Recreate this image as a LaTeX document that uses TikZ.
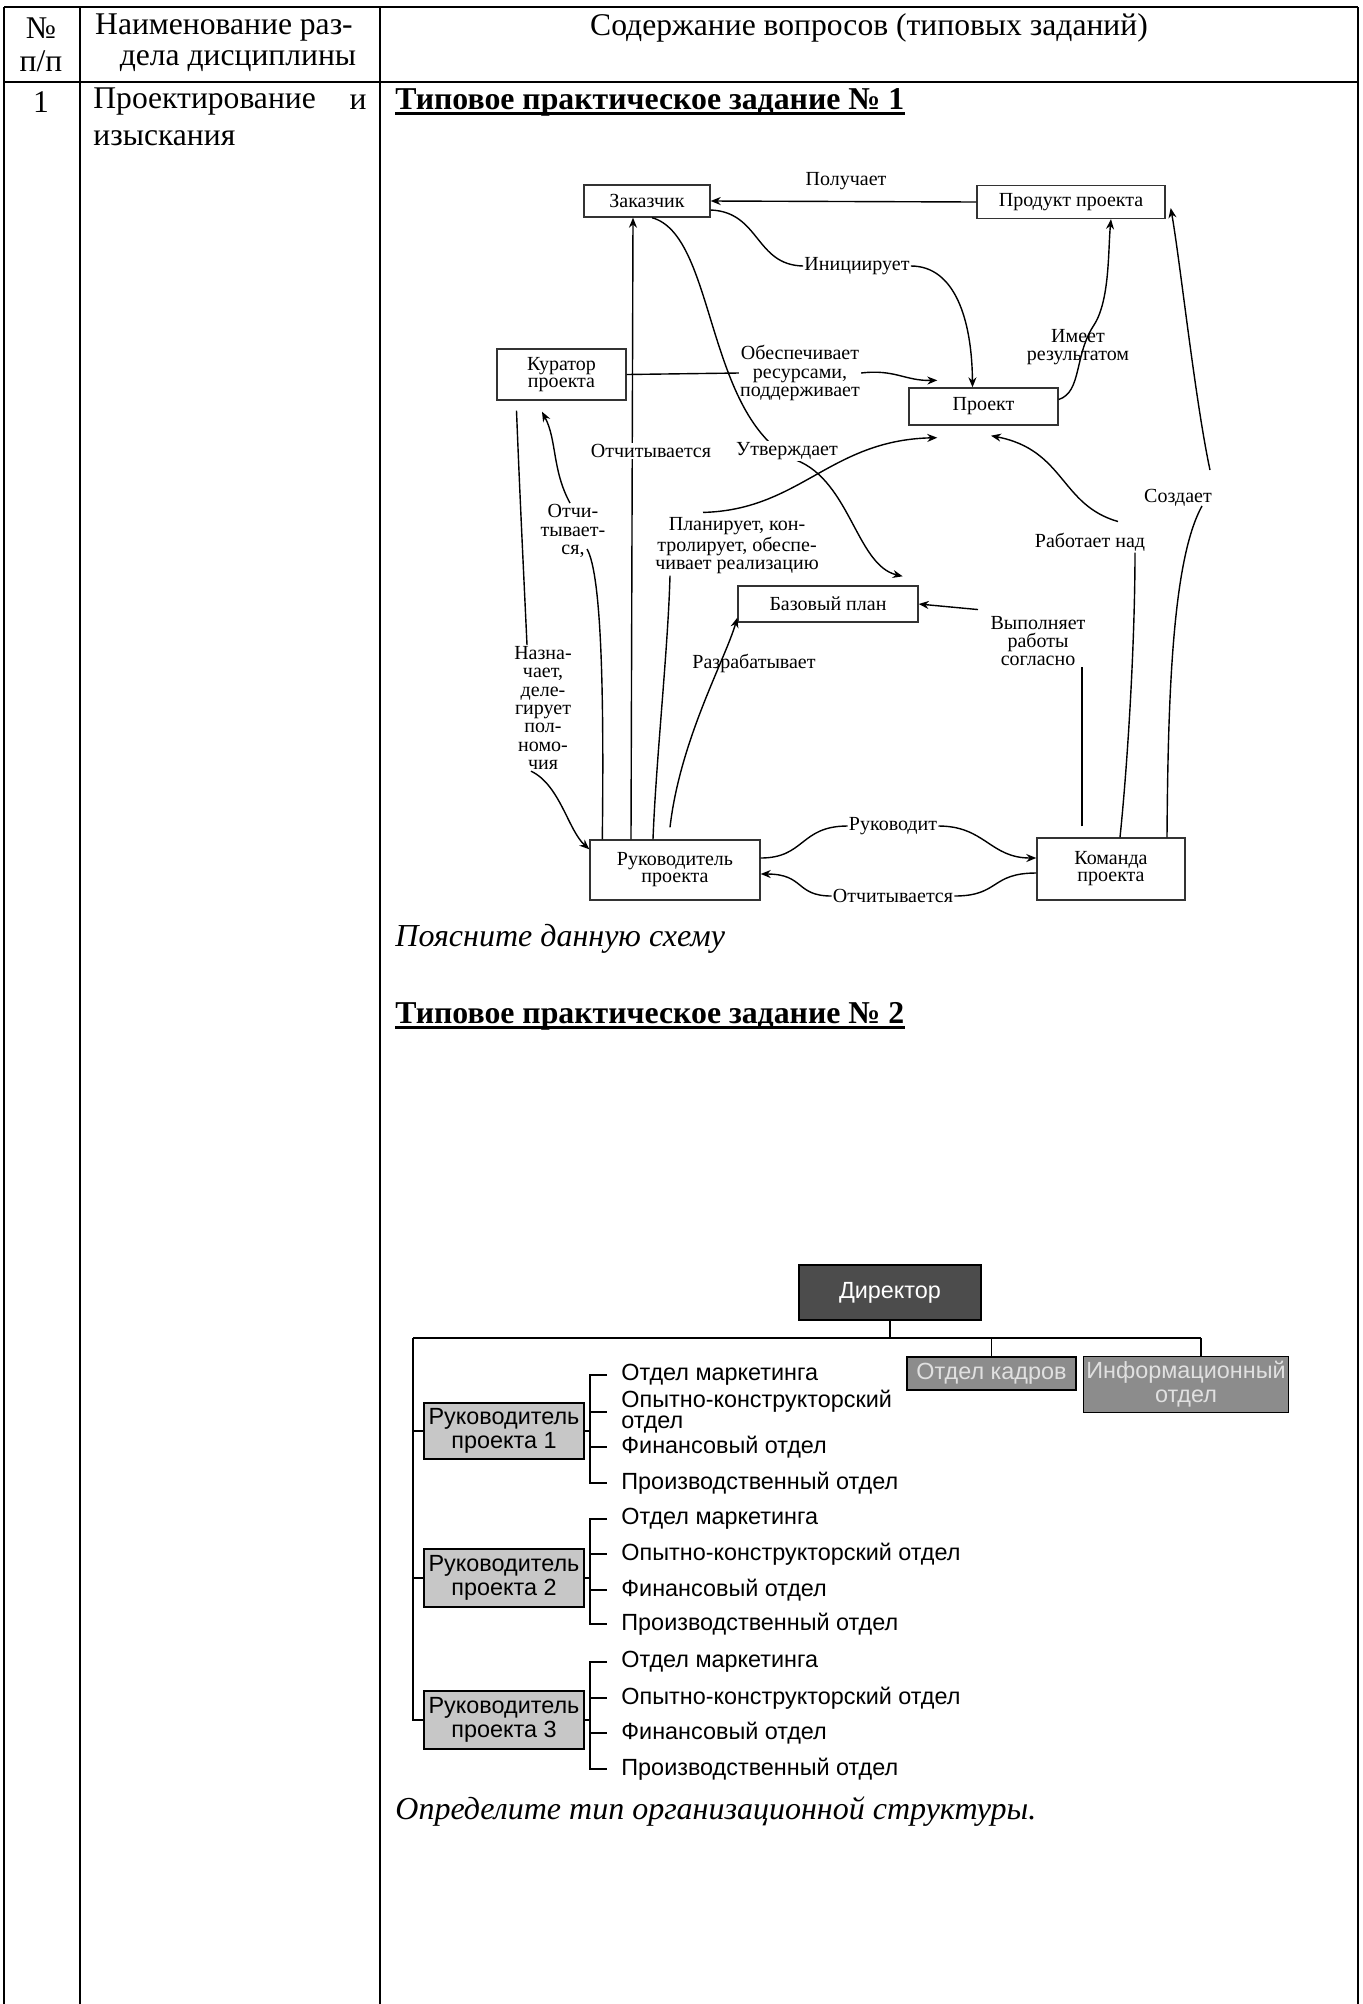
\documentclass[tikz,border=0pt]{standalone}
\usepackage{fontspec}
\setmainfont{Liberation Serif}
\setsansfont{Liberation Sans}
\usetikzlibrary{arrows.meta}
\begin{document}
\begin{tikzpicture}[x=0.5pt, y=-0.5pt,
  tableLine/.style={line width=0.6pt},
  cellText/.style={inner sep=0pt, font=\fontsize{15.8}{16.5}\selectfont},
  taskTitle/.style={inner sep=0pt, anchor=west, font=\fontsize{15.9}{16.5}\selectfont\bfseries},
  taskQuestion/.style={inner sep=0pt, anchor=west, font=\fontsize{16}{16.5}\selectfont\itshape},
  schemeBox/.style={rectangle, draw=black!80, line width=0.7pt, inner sep=0pt, align=center, font=\fontsize{10}{8.5}\selectfont},
  schemeLabel/.style={inner sep=0.5pt, align=center, font=\fontsize{10}{9.2}\selectfont},
  schemeLine/.style={line width=0.7pt},
  schemeArrow/.style={line width=0.7pt, -{Stealth[length=5pt, width=4pt]}},
  orgBox/.style={rectangle, draw=black, line width=0.8pt, inner sep=0pt, align=center, font=\sffamily\fontsize{11.7}{12}\selectfont},
  orgLine/.style={line width=0.75pt},
  deptLabel/.style={anchor=west, inner sep=0pt, align=left, font=\sffamily\fontsize{11.7}{10.5}\selectfont}]
\useasboundingbox (0,0) rectangle (1362,2004);

% table frame
\draw[tableLine] (4,7) -- (1358,7);
\draw[tableLine] (4,82) -- (1358,82);
\draw[tableLine] (4,7) -- (4,2004);
\draw[tableLine] (80,7) -- (80,2004);
\draw[tableLine] (380,7) -- (380,2004);
\draw[tableLine] (1358,7) -- (1358,2004);

% header and first row
\node[cellText] (numHead) at (41,28) {№};
\node[cellText] (numHeadB) at (41,61) {п/п};
\node[cellText] (nameHead) at (224,28) {Наименование раз-};
\node[cellText] (nameHeadB) at (238,61) {дела дисциплины};
\node[cellText] (contentHead) at (869,28) {Содержание вопросов (типовых заданий)};
\node[cellText] (rowNum) at (41,102) {1};
\node[cellText, anchor=west] (rowName) at (93,102) {Проектирование};
\node[cellText, anchor=east] (rowNameAnd) at (367,102) {и};
\node[cellText, anchor=west] (rowNameB) at (93,138) {изыскания};
\node[taskTitle] (task1Title) at (395,102) {Типовое практическое задание № 1};
\draw[line width=1.1pt] ([yshift=-2.2pt]task1Title.base west) -- ([yshift=-2.2pt]task1Title.base east);

% scheme 1: boxes
\node[schemeBox, minimum width=63pt, minimum height=16pt] (zakBox) at (647,201) {Заказчик};
\node[schemeBox, minimum width=94pt, minimum height=16.5pt] (prodBox) at (1071,202) {Продукт проекта};
\node[schemeBox, minimum width=64.5pt, minimum height=25.5pt] (kurBox) at (561.5,374.5) {Куратор\\проекта};
\node[schemeBox, minimum width=74.5pt, minimum height=18.5pt] (projBox) at (983.5,406.5) {Проект};
\node[schemeBox, minimum width=90pt, minimum height=18pt] (baseBox) at (828,604) {Базовый план};
\node[schemeBox, minimum width=85pt, minimum height=30pt] (rukBox) at (675,870) {Руководитель\\проекта};
\node[schemeBox, minimum width=74pt, minimum height=31pt] (teamBox) at (1111,869) {Команда\\проекта};

% scheme 1: labels
\node[schemeLabel] (getLabel) at (846,181) {Получает};
\node[schemeLabel] (initLabel) at (857,266) {Инициирует};
\node[schemeLabel] (resLabel) at (800,373) {Обеспечивает\\ресурсами,\\поддерживает};
\node[schemeLabel] (resultLabel) at (1078,347) {Имеет\\результатом};
\node[schemeLabel] (planLabel) at (737,546) {Планирует, кон-\\тролирует, обеспе-\\чивает реализацию};
\node[schemeLabel] (workLabel) at (1090,542) {Работает над};
\node[schemeLabel] (createLabel) at (1178,498) {Создает};
\node[schemeLabel] (doLabel) at (1038,641) {Выполняет\\работы\\согласно};
\node[schemeLabel] (devLabel) at (754,663) {Разрабатывает};
\node[schemeLabel] (assignLabel) at (543,708) {Назна-\\чает,\\деле-\\гирует\\пол-\\номо-\\чия};
\node[schemeLabel] (reportKurLabel) at (573,531) {Отчи-\\тывает-\\ся,};
\node[schemeLabel] (leadLabel) at (893,826) {Руководит};
\node[schemeLabel] (reportRukLabel) at (893,896) {Отчитывается};

% scheme 1: connectors
\draw[schemeArrow] (prodBox.west) -- (zakBox.east);
\draw[schemeLine] ([yshift=-4.5pt]zakBox.east) .. controls (760,212) and (755,265) .. (initLabel.west);
\draw[schemeArrow] (initLabel.east) .. controls (955,266) and (972,320) .. ([xshift=-5.5pt]projBox.north);
\draw[schemeLine] (kurBox.east) -- (resLabel.west);
\draw[schemeArrow] (resLabel.east) .. controls (895,369) and (905,381) .. ([xshift=14.5pt,yshift=3.5pt]projBox.north west);
\draw[schemeArrow] ([yshift=3.5pt]projBox.east) .. controls (1082,392) and (1074,355) .. (1094,325) .. controls (1110,300) and (1108,250) .. ([xshift=20pt]prodBox.south);
\draw[schemeArrow] ([xshift=-22pt]rukBox.north) -- ([xshift=-7pt]zakBox.south);
\draw[schemeArrow] ([xshift=2.5pt]zakBox.south) .. controls (715,235) and (705,410) .. (790,458) .. controls (850,475) and (855,565) .. ([xshift=-8pt,yshift=4.5pt]baseBox.north east);
\draw[schemeLine] ([xshift=-11pt]rukBox.north) .. controls (656,760) and (668,650) .. ([xshift=-33.5pt]planLabel.south);
\draw[schemeArrow] ([xshift=-17pt,yshift=2pt]planLabel.north) .. controls (800,510) and (830,440) .. ([xshift=14.5pt,yshift=-6pt]projBox.south west);
\draw[schemeArrow] ([xshift=-2.5pt,yshift=6pt]rukBox.north) .. controls (680,740) and (725,660) .. ([yshift=2.5pt]baseBox.south west);
\draw[schemeLine] ([xshift=6.5pt]rukBox.north west) .. controls (604,700) and (602,575) .. ([xshift=7pt,yshift=-9pt]reportKurLabel.center);
\draw[schemeArrow] ([xshift=-1.5pt]reportKurLabel.north) .. controls (552,470) and (557,440) .. ([xshift=-9.75pt,yshift=-5.5pt]kurBox.south);
\draw[schemeLine] ([xshift=-22.5pt,yshift=-5pt]kurBox.south) .. controls (520,500) and (524,580) .. ([xshift=-8pt]assignLabel.north);
\draw[schemeArrow] ([xshift=-6pt]assignLabel.south) .. controls (560,785) and (568,830) .. ([yshift=-5pt]rukBox.north west);
\draw[schemeLine] ([yshift=6pt]rukBox.east) .. controls (805,858) and (800,826) .. (leadLabel.west);
\draw[schemeArrow] (leadLabel.east) .. controls (985,826) and (990,858) .. ([yshift=5.5pt]teamBox.west);
\draw[schemeLine] ([yshift=-2pt]teamBox.west) .. controls (990,873) and (1000,896) .. (reportRukLabel.east);
\draw[schemeArrow] (reportRukLabel.west) .. controls (795,896) and (805,874) .. ([yshift=-2pt]rukBox.east);
\draw[schemeLine] ([xshift=4.5pt]teamBox.north) .. controls (1128,760) and (1135,640) .. ([xshift=22.5pt]workLabel.south);
\draw[schemeArrow] ([xshift=14pt,yshift=5pt]workLabel.north) .. controls (1060,505) and (1065,450) .. ([xshift=3.75pt,yshift=-5pt]projBox.south);
\draw[schemeLine] ([xshift=-14.5pt,yshift=5.5pt]teamBox.north) -- ([xshift=22pt]doLabel.south);
\draw[schemeArrow] ([xshift=-30pt,yshift=2.5pt]doLabel.north) -- (baseBox.east);
\draw[schemeLine] ([xshift=28pt]teamBox.north) .. controls (1168,700) and (1172,560) .. ([xshift=12pt,yshift=-4pt]createLabel.center);
\draw[schemeArrow] ([xshift=16pt,yshift=14pt]createLabel.center) .. controls (1195,400) and (1180,260) .. ([xshift=2.5pt,yshift=-3pt]prodBox.east);
\node[schemeLabel, fill=white] (reportZakLabel) at (651,451) {Отчитывается};
\node[schemeLabel, fill=white] (approveLabel) at (787,451) {Утверждает};

\node[taskQuestion] (task1Question) at (395,939) {Поясните данную схему};
\node[taskTitle] (task2Title) at (395,1016) {Типовое практическое задание № 2};
\draw[line width=1.1pt] ([yshift=-2.2pt]task2Title.base west) -- ([yshift=-2.2pt]task2Title.base east);

% scheme 2: boxes
\node[orgBox, fill=black!70, text=white, minimum width=91pt, minimum height=27.5pt] (dirBox) at (890,1292.5) {Директор};
\node[orgBox, fill=black!45, text=black!12, minimum width=84.5pt, minimum height=16.5pt] (hrBox) at (991.5,1373.5) {Отдел кадров};
\node[orgBox, fill=black!45, text=black!12, minimum width=102.5pt, minimum height=28pt] (infoBox) at (1186,1384.5) {Информационный\\отдел};
\node[orgBox, fill=black!22, minimum width=80pt, minimum height=28pt] (lead1Box) at (504,1431) {Руководитель\\проекта 1};
\node[orgBox, fill=black!22, minimum width=80pt, minimum height=29pt] (lead2Box) at (504,1578) {Руководитель\\проекта 2};
\node[orgBox, fill=black!22, minimum width=80pt, minimum height=29pt] (lead3Box) at (504,1720) {Руководитель\\проекта 3};

% scheme 2: departments
\node[deptLabel] (mark1) at (621,1375) {Отдел маркетинга};
\node[deptLabel] (design1) at (621,1412) {Опытно-конструкторский\\отдел};
\node[deptLabel] (fin1) at (621,1447) {Финансовый отдел};
\node[deptLabel] (prod1) at (621,1483) {Производственный отдел};
\node[deptLabel] (mark2) at (621,1519) {Отдел маркетинга};
\node[deptLabel] (design2) at (621,1554) {Опытно-конструкторский отдел};
\node[deptLabel] (fin2) at (621,1590) {Финансовый отдел};
\node[deptLabel] (prod2) at (621,1624) {Производственный отдел};
\node[deptLabel] (mark3) at (621,1662) {Отдел маркетинга};
\node[deptLabel] (design3) at (621,1698) {Опытно-конструкторский отдел};
\node[deptLabel] (fin3) at (621,1733) {Финансовый отдел};
\node[deptLabel] (prod3) at (621,1769) {Производственный отдел};

% scheme 2: lines
\coordinate (busLeft) at (413,1338);
\coordinate (busRight) at (1201,1338);
\draw[orgLine] (busLeft) -- (busRight);
\draw[orgLine] (dirBox.south) -- (dirBox.south |- busLeft);
\draw[orgLine] (hrBox.north |- busLeft) -- (hrBox.north);
\draw[orgLine] (busRight) -- (busRight |- infoBox.north);
\draw[orgLine] (busLeft) |- (lead3Box.west);
\draw[orgLine] (lead1Box.west -| busLeft) -- (lead1Box.west);
\draw[orgLine] (lead2Box.west -| busLeft) -- (lead2Box.west);

\draw[orgLine] (lead1Box.east) -- ++(3pt,0);
\draw[orgLine] ([xshift=-7pt]mark1.west) -- ([xshift=-15.5pt]mark1.west) -- ([xshift=-15.5pt]prod1.west) -- ([xshift=-7pt]prod1.west);
\draw[orgLine] ([xshift=-15.5pt]design1.west) -- ([xshift=-7pt]design1.west);
\draw[orgLine] ([xshift=-15.5pt]fin1.west) -- ([xshift=-7pt]fin1.west);

\draw[orgLine] (lead2Box.east) -- ++(3pt,0);
\draw[orgLine] ([xshift=-7pt]mark2.west) -- ([xshift=-15.5pt]mark2.west) -- ([xshift=-15.5pt]prod2.west) -- ([xshift=-7pt]prod2.west);
\draw[orgLine] ([xshift=-15.5pt]design2.west) -- ([xshift=-7pt]design2.west);
\draw[orgLine] ([xshift=-15.5pt]fin2.west) -- ([xshift=-7pt]fin2.west);

\draw[orgLine] (lead3Box.east) -- ++(3pt,0);
\draw[orgLine] ([xshift=-7pt]mark3.west) -- ([xshift=-15.5pt]mark3.west) -- ([xshift=-15.5pt]prod3.west) -- ([xshift=-7pt]prod3.west);
\draw[orgLine] ([xshift=-15.5pt]design3.west) -- ([xshift=-7pt]design3.west);
\draw[orgLine] ([xshift=-15.5pt]fin3.west) -- ([xshift=-7pt]fin3.west);

\node[taskQuestion] (task2Question) at (395,1812) {Определите тип организационной структуры.};
\end{tikzpicture}
\end{document}
